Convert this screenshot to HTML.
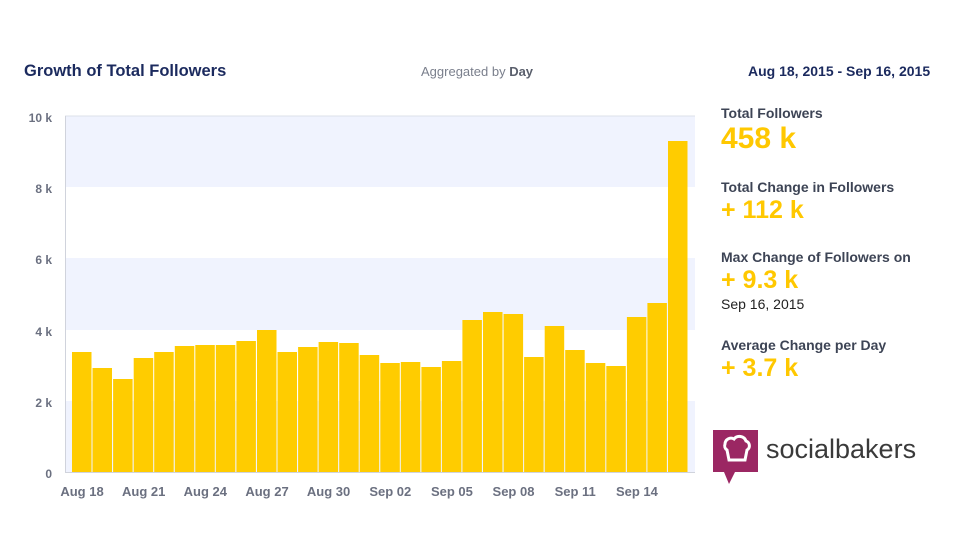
<!DOCTYPE html><html><head><style>
body{margin:0;width:954px;height:541px;background:#fff;font-family:"Liberation Sans",sans-serif;position:relative;overflow:hidden}
.t{position:absolute;white-space:nowrap}
.h{color:#1b2a5e;font-weight:bold;font-size:15px}
.lab{color:#3d4455;font-weight:bold;font-size:14px}
.big{color:#ffc800;font-weight:bold}
</style></head><body>
<div class="t h" style="left:24px;top:62px;font-size:16.5px">Growth of Total Followers</div>
<div class="t" style="left:421px;top:64px;font-size:13px;color:#7a7f8c">Aggregated by <b style="color:#5a5f6c">Day</b></div>
<div class="t h" style="left:748px;top:63px;font-size:14px">Aug 18, 2015 - Sep 16, 2015</div>
<svg width="954" height="541" style="position:absolute;left:0;top:0">
<rect x="65" y="116" width="630" height="71" fill="#f0f3fe"/>
<rect x="65" y="258" width="630" height="72" fill="#f0f3fe"/>
<rect x="65" y="401" width="630" height="71" fill="#f0f3fe"/>
<line x1="65" y1="116" x2="695" y2="116" stroke="#dde0ea"/>
<line x1="65.5" y1="116" x2="65.5" y2="472" stroke="#d0d3dc"/>
<line x1="65" y1="472.5" x2="695" y2="472.5" stroke="#d0d3dc"/>
<g fill="#ffcc00" id="b"></g>
<g font-family="Liberation Sans" font-weight="bold" font-size="12" fill="#6b7080" text-anchor="end">
<text x="52" y="122">10 k</text><text x="52" y="193">8 k</text><text x="52" y="264">6 k</text><text x="52" y="336">4 k</text><text x="52" y="407">2 k</text><text x="52" y="478">0</text>
</g>
<g font-family="Liberation Sans" font-weight="bold" font-size="13" fill="#6b7080" text-anchor="middle" id="xl"></g>
</svg>
<div class="t lab" style="left:721px;top:105px">Total Followers</div>
<div class="t big" style="left:721px;top:122px;font-size:30px">458 k</div>
<div class="t lab" style="left:721px;top:179px">Total Change in Followers</div>
<div class="t big" style="left:721px;top:196px;font-size:25px">+ 112 k</div>
<div class="t lab" style="left:721px;top:249px">Max Change of Followers on</div>
<div class="t big" style="left:721px;top:266px;font-size:25px">+ 9.3 k</div>
<div class="t" style="left:721px;top:296px;font-size:14px;color:#222">Sep 16, 2015</div>
<div class="t lab" style="left:721px;top:337px">Average Change per Day</div>
<div class="t big" style="left:721px;top:354px;font-size:25px">+ 3.7 k</div>
<svg width="50" height="56" style="position:absolute;left:713px;top:430px">
<path d="M0 0H45V42H22L16 54L11 42H0Z" fill="#9b2763"/>
<path d="M12 14a6 6 0 0 1 9-5a7 7 0 0 1 12 2a5 5 0 0 1 1 9l-2 10H16l-2-10a5 5 0 0 1-2-6z" fill="none" stroke="#fff" stroke-width="3"/>
</svg>
<div class="t" style="left:766px;top:434px;font-size:27px;color:#3a3a3a">socialbakers</div>
<script>
var ys=[352,368,379,358,352,346,345,345,341,330,352,347,342,343,355,363,362,367,361,320,312,314,357,326,350,363,366,317,303,141];
var g=document.getElementById('b'),s='';
ys.forEach(function(y,i){var x=72+i*20.55;s+='<rect x="'+x.toFixed(1)+'" y="'+y+'" width="19.5" height="'+(472-y)+'"/>';});
g.innerHTML=s;
var L=['Aug 18','Aug 21','Aug 24','Aug 27','Aug 30','Sep 02','Sep 05','Sep 08','Sep 11','Sep 14'],t='';
L.forEach(function(l,i){var x=82+i*3*20.55;t+='<text x="'+x.toFixed(1)+'" y="496">'+l+'</text>';});
document.getElementById('xl').innerHTML=t;
</script>
</body></html>
